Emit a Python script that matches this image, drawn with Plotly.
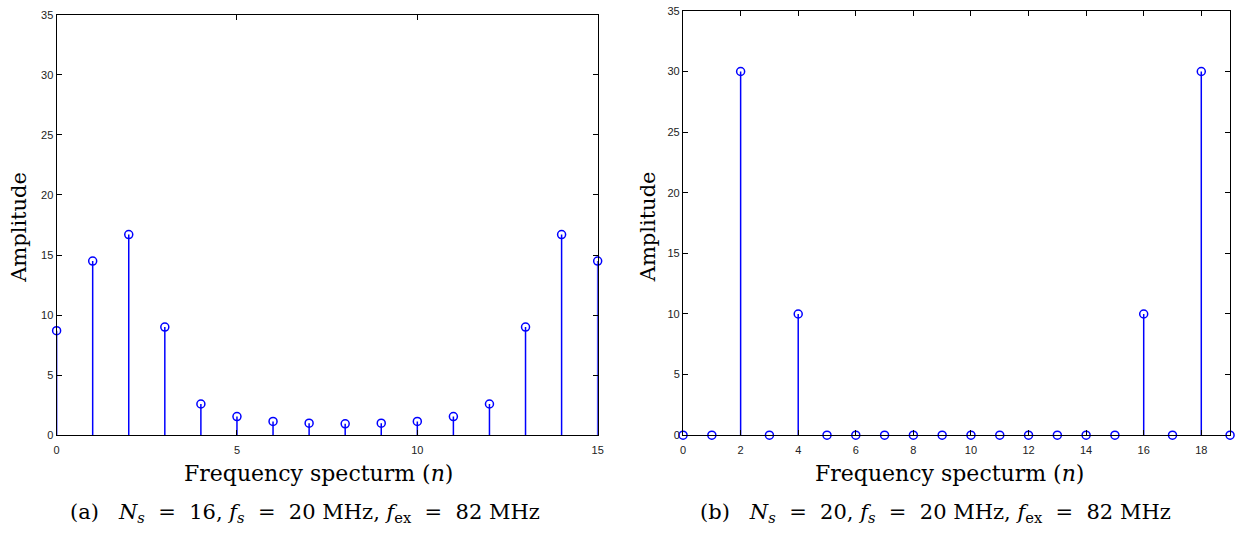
import plotly.graph_objects as go

# Data
n_a = list(range(16))
amp_a = [8.7, 14.5, 16.7, 9.0, 2.6, 1.55, 1.15, 1.0, 0.95, 1.0, 1.15, 1.55, 2.6, 9.0, 16.7, 14.5]
n_b = list(range(20))
amp_b = [0, 0, 30, 0, 10, 0, 0, 0, 0, 0, 0, 0, 0, 0, 0, 0, 10, 0, 30, 0]

xticks_a = [0, 5, 10, 15]
xticks_b = list(range(0, 19, 2))
yticks = [0, 5, 10, 15, 20, 25, 30, 35]

W, H = 1246, 539
BLUE = "#0000ff"
TICKFONT = dict(family="Liberation Sans, Arial, sans-serif", size=11, color="#222")
SERIF = "DejaVu Serif, serif"


def stems(xs, ys):
    sx, sy = [], []
    for x, y in zip(xs, ys):
        sx += [x, x, None]
        sy += [0, y, None]
    return sx, sy


fig = go.Figure()

for xs, ys, xa, ya in [(n_a, amp_a, "x", "y"), (n_b, amp_b, "x2", "y2")]:
    sx, sy = stems(xs, ys)
    fig.add_trace(go.Scatter(x=sx, y=sy, mode="lines", line=dict(color=BLUE, width=1.5),
                             xaxis=xa, yaxis=ya, cliponaxis=False, hoverinfo="skip",
                             showlegend=False))
    fig.add_trace(go.Scatter(x=xs, y=ys, mode="markers",
                             marker=dict(symbol="circle-open", size=8, color=BLUE,
                                         line=dict(width=1.5, color=BLUE)),
                             xaxis=xa, yaxis=ya, cliponaxis=False, showlegend=False))

axis_common = dict(showline=True, linecolor="black", linewidth=1.2, mirror="ticks",
                   ticks="inside", ticklen=5, tickcolor="black", showgrid=False,
                   zeroline=False, tickfont=TICKFONT)

fig.update_layout(
    width=W, height=H,
    margin=dict(l=0, r=0, t=0, b=0),
    plot_bgcolor="white", paper_bgcolor="white",
    xaxis=dict(domain=[54 / W, 599 / W], range=[0, 15], tickvals=xticks_a,
               ticklabelstandoff=4, anchor="y", **axis_common),
    yaxis=dict(domain=[1 - 439 / H, 1 - 9 / H], range=[0, 35], tickvals=yticks,
               anchor="x", **axis_common),
    xaxis2=dict(domain=[685 / W, 1236 / W], range=[0, 19], tickvals=xticks_b,
                ticklabelstandoff=4, anchor="y2", **axis_common),
    yaxis2=dict(domain=[1 - 439 / H, 1 - 5 / H], range=[0, 35], tickvals=yticks,
                anchor="x2", **axis_common),
)

label_font = dict(family=SERIF, size=21, color="black")
title_font = dict(family=SERIF, size=22, color="black")
cap_font = dict(family=SERIF, size=21, color="black")
annotations = []
for cx in [16, 650]:
    annotations.append(dict(x=cx / W, y=1 - 226 / H, xref="paper", yref="paper",
                            text="Amplitude", textangle=-90, showarrow=False,
                            font=label_font, xanchor="center", yanchor="middle"))
for cx in [318, 953]:
    annotations.append(dict(x=cx / W, y=1 - 478 / H, xref="paper", yref="paper",
                            text="Frequency specturm (<i>n</i>)", showarrow=False,
                            font=title_font, xanchor="center", yanchor="middle"))
EQ = "&nbsp;&nbsp;=&nbsp;&nbsp;"
captions = [
    (f"(a)&nbsp;&nbsp;&nbsp;<i>N<sub>s</sub></i>{EQ}16, <i>f<sub>s</sub></i>{EQ}20 MHz, <i>f</i><sub>ex</sub>{EQ}82 MHz", 304),
    (f"(b)&nbsp;&nbsp;&nbsp;<i>N<sub>s</sub></i>{EQ}20, <i>f<sub>s</sub></i>{EQ}20 MHz, <i>f</i><sub>ex</sub>{EQ}82 MHz", 939),
]
for txt, cx in captions:
    annotations.append(dict(x=cx / W, y=1 - 519 / H, xref="paper", yref="paper",
                            text=txt, showarrow=False, font=cap_font,
                            xanchor="center", yanchor="middle"))
fig.update_layout(annotations=annotations)

fig.write_html("out.html")
